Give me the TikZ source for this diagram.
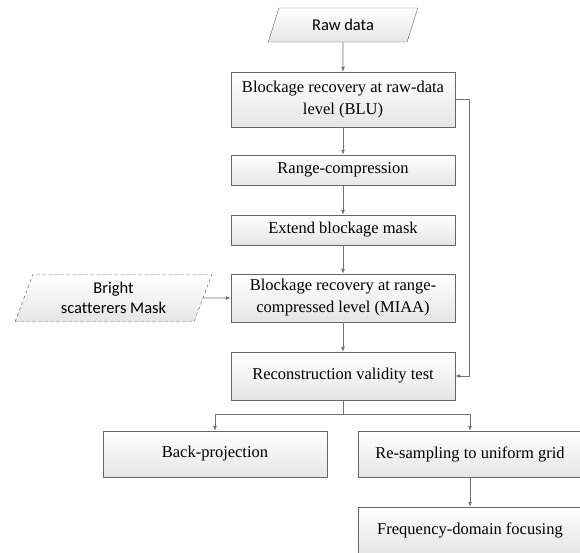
\documentclass[tikz,border=0pt]{standalone}
\usepackage{fontspec}
\setmainfont{Liberation Serif}
\newfontfamily\inputfont[Ligatures=NoCommon]{Carlito}
\usetikzlibrary{positioning,shapes.geometric,arrows.meta}

\tikzset{
  stepbox/.style={draw=black!60, top color=white, bottom color=black!10,
    minimum width=224pt, align=center, inner sep=0pt,
    font=\fontsize{16.5}{22}\selectfont},
  databox/.style={trapezium, trapezium left angle=66, trapezium right angle=114,
    trapezium stretches=true, draw=black!60, top color=white, bottom color=black!10,
    align=center, inner sep=0pt, font=\inputfont\fontsize{16.5}{20}\selectfont},
  link/.style={draw=black!55, line width=0.8pt, -{Latex[length=5pt,width=4pt]}}
}

\begin{document}
\begin{tikzpicture}[x=1pt,y=-1pt]
\useasboundingbox (0,0) rectangle (580,553);

% input data
\node[databox, minimum width=150pt, minimum height=34pt] (raw) at (343,25) {Raw data};
\node[databox, dashed, draw=black!70, trapezium left angle=70, trapezium right angle=110,
  minimum width=197pt, minimum height=47pt] (mask) at (113.5,298) {Bright\\scatterers Mask};

% main chain
\node[stepbox, minimum height=55pt] (blu) at (343,99.5) {Blockage recovery at raw-data\\level (BLU)};
\node[stepbox, minimum height=30pt] (rcomp) at (343,170) {Range-compression};
\node[stepbox, minimum height=30pt] (extend) at (343,230) {Extend blockage mask};
\node[stepbox, minimum height=48pt] (miaa) at (343,298) {Blockage recovery at range-\\compressed level (MIAA)};
\node[stepbox, minimum height=48pt] (valid) at (343,376) {Reconstruction validity test};

% focusing options
\node[stepbox, minimum height=46pt] (bproj) at (215,454) {Back-projection};
\node[stepbox, minimum height=46pt] (resamp) at (470,454) {Re-sampling to uniform grid};
\node[stepbox, minimum height=46pt] (fdom) at (470,530) {Frequency-domain focusing};

\coordinate (split) at (343,414);

\draw[link] (raw) -- (blu);
\draw[link] (blu) -- (rcomp);
\draw[link] (rcomp) -- (extend);
\draw[link] (extend) -- (miaa);
\draw[link] (miaa) -- (valid);
\draw[link] (mask) -- (miaa);

% bypass from BLU to validity test
\draw[link] (blu.east) -- ++(14,0) |- (valid.east);

% split to both focusing paths
\draw[draw=black!55, line width=0.8pt] (valid) -- (split);
\draw[link] (split) -| (bproj);
\draw[link] (split) -| (resamp);
\draw[link] (resamp) -- (fdom);

\end{tikzpicture}
\end{document}
